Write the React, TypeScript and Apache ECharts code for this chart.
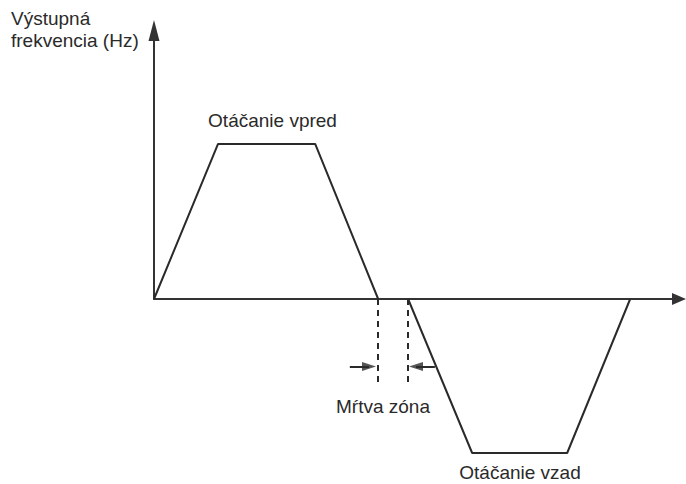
import React, { useEffect, useRef } from "react";
import * as echarts from "echarts";

// Forward rotation trapezoid (time, frequency)
const forwardTime = [0, 12.2, 30.7, 42.7];
const forwardFreq = [0, 1, 1, 0];
// Reverse rotation trapezoid
const reverseTime = [48.4, 60.6, 78.7, 90.7];
const reverseFreq = [0, -1, -1, 0];
// Dead zone boundaries
const deadZone = [42.7, 48.4];
const deadZoneDepth = -0.56;
const deadArrowLevel = -0.438;
const deadArrowLeft = [37.3, 40.95];
const deadArrowRight = [53.5, 49.9];

const yAxisTitle = ["Výstupná", "frekvencia (Hz)"];
const labelForward = "Otáčanie vpred";
const labelReverse = "Otáčanie vzad";
const labelDead = "Mŕtva zóna";

const FONT = "'Liberation Sans', Arial, sans-serif";
const INK = "#2a2a2a";

export default function App() {
  const ref = useRef<HTMLDivElement>(null);
  useEffect(() => {
    if (!ref.current) return;
    const chart = echarts.init(ref.current, null, { renderer: "svg" });
    const hidden = {
      axisLine: { show: false },
      axisTick: { show: false },
      axisLabel: { show: false },
      splitLine: { show: false },
    };
    const lineStyle = { color: INK, width: 2 };
    chart.setOption({
      animation: false,
      backgroundColor: "#ffffff",
      grid: [
        { left: 154, top: 30.5, right: 7, bottom: 185 },
        { left: 154, top: 299, right: 7, bottom: 31 },
      ],
      xAxis: [
        {
          type: "value",
          gridIndex: 0,
          min: 0,
          max: 100,
          axisLine: {
            show: true,
            symbol: ["none", "triangle"],
            symbolSize: [12, 14],
            lineStyle: { color: "#333", width: 2 },
          },
          axisTick: { show: false },
          axisLabel: { show: false },
          splitLine: { show: false },
        },
        { type: "value", gridIndex: 1, min: 0, max: 100, ...hidden },
      ],
      yAxis: [
        {
          type: "value",
          gridIndex: 0,
          min: 0,
          max: 1.732,
          axisLine: {
            show: true,
            symbol: ["none", "triangle"],
            symbolSize: [11, 21],
            lineStyle: { color: "#333", width: 2 },
          },
          axisTick: { show: false },
          axisLabel: { show: false },
          splitLine: { show: false },
        },
        { type: "value", gridIndex: 1, min: -1, max: 0, ...hidden },
      ],
      series: [
        {
          type: "line",
          xAxisIndex: 0,
          yAxisIndex: 0,
          data: forwardTime.map((t, i) => [t, forwardFreq[i]]),
          showSymbol: false,
          symbol: "none",
          clip: false,
          lineStyle,
        },
        {
          type: "line",
          xAxisIndex: 1,
          yAxisIndex: 1,
          data: reverseTime.map((t, i) => [t, reverseFreq[i]]),
          showSymbol: false,
          symbol: "none",
          clip: false,
          lineStyle,
          markLine: {
            silent: true,
            animation: false,
            symbol: ["none", "none"],
            label: { show: false },
            emphasis: { disabled: true },
            data: [
              ...deadZone.map((x) => [
                {
                  coord: [x, 0],
                  lineStyle: { type: [6, 5], color: INK, width: 2 },
                },
                { coord: [x, deadZoneDepth] },
              ]),
              [
                {
                  coord: [deadArrowLeft[0], deadArrowLevel],
                  lineStyle: { type: "solid", color: INK, width: 2 },
                },
                { coord: [deadArrowLeft[1], deadArrowLevel] },
              ],
              [
                {
                  coord: [deadArrowRight[0], deadArrowLevel],
                  lineStyle: { type: "solid", color: INK, width: 2 },
                },
                { coord: [deadArrowRight[1], deadArrowLevel] },
              ],
            ],
          },
        },
        {
          type: "scatter",
          xAxisIndex: 1,
          yAxisIndex: 1,
          silent: true,
          clip: false,
          symbol: "triangle",
          symbolSize: [9, 14],
          itemStyle: { color: INK },
          data: [
            { value: [deadArrowLeft[1], deadArrowLevel], symbolRotate: -90 },
            { value: [deadArrowRight[1], deadArrowLevel], symbolRotate: 90 },
          ],
        },
      ],
      graphic: [
        {
          type: "text",
          left: 11,
          top: 7,
          style: {
            text: yAxisTitle.join("\n"),
            font: `19px ${FONT}`,
            lineHeight: 22,
            fill: INK,
          },
        },
        {
          type: "text",
          x: 272.5,
          y: 120,
          style: {
            text: labelForward,
            font: `19px ${FONT}`,
            fill: INK,
            align: "center",
            verticalAlign: "middle",
          },
        },
        {
          type: "text",
          x: 520,
          y: 472,
          style: {
            text: labelReverse,
            font: `19px ${FONT}`,
            fill: INK,
            align: "center",
            verticalAlign: "middle",
          },
        },
        {
          type: "text",
          x: 383,
          y: 406,
          style: {
            text: labelDead,
            font: `19px ${FONT}`,
            fill: INK,
            align: "center",
            verticalAlign: "middle",
          },
        },
      ],
    });
    return () => chart.dispose();
  }, []);
  return <div ref={ref} style={{ width: 686, height: 484, position: "absolute", left: 0, top: 0 }} />;
}
